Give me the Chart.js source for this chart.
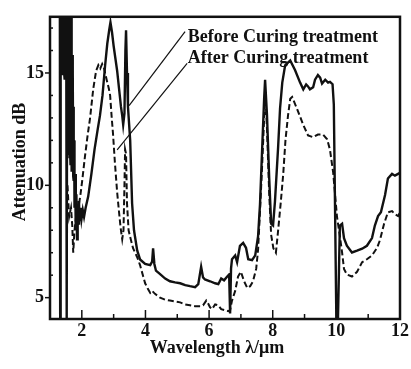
<!DOCTYPE html>
<html>
<head>
<meta charset="utf-8">
<script src="https://cdn.jsdelivr.net/npm/chart.js@4.4.0/dist/chart.umd.min.js"></script>
<style>
  html, body { margin: 0; padding: 0; background: #ffffff; }
  #c { display: block; }
</style>
</head>
<body>
<canvas id="c" width="411" height="369"></canvas>
<script>
// Attenuation spectrum of the fibre, before and after the curing treatment
const beforeX = [
  1.31, 1.32, 1.33, 1.34, 1.35, 1.36, 1.37, 1.38, 1.39, 1.40, 1.41, 1.42, 1.43, 1.44, 1.45, 1.46,
  1.47, 1.48, 1.49, 1.50, 1.51, 1.52, 1.53, 1.54, 1.55, 1.56, 1.57, 1.58, 1.59, 1.60, 1.61, 1.62,
  1.63, 1.64, 1.65, 1.66, 1.67, 1.68, 1.69, 1.70, 1.71, 1.72, 1.73, 1.74, 1.75, 1.76, 1.77, 1.79,
  1.81, 1.83, 1.85, 1.87, 1.89, 1.91, 1.93, 1.96, 1.99, 2.03, 2.07, 2.12, 2.20, 2.30, 2.40, 2.50,
  2.57, 2.65, 2.73, 2.80, 2.86, 2.90, 2.95, 3.00, 3.05, 3.11, 3.17, 3.23, 3.27, 3.30, 3.34, 3.37,
  3.39, 3.42, 3.45, 3.52, 3.58, 3.64, 3.74, 3.83, 3.99, 4.15, 4.21, 4.24, 4.28, 4.33, 4.46, 4.62,
  4.77, 4.93, 5.09, 5.25, 5.40, 5.56, 5.66, 5.75, 5.81, 5.87, 6.03, 6.19, 6.29, 6.38, 6.47, 6.57,
  6.63, 6.66, 6.69, 6.72, 6.82, 6.88, 6.97, 7.07, 7.16, 7.23, 7.35, 7.45, 7.54, 7.60, 7.67, 7.73,
  7.76, 7.82, 7.89, 7.95, 8.01, 8.07, 8.17, 8.23, 8.30, 8.39, 8.55, 8.70, 8.86, 8.96, 9.05, 9.11,
  9.17, 9.27, 9.33, 9.42, 9.49, 9.55, 9.65, 9.74, 9.80, 9.88, 9.92, 10.00, 10.05, 10.11, 10.18, 10.24,
  10.33, 10.49, 10.65, 10.81, 10.96, 11.12, 11.21, 11.31, 11.40, 11.53, 11.62, 11.75, 11.84, 11.94, 12.00
];
const beforeY = [
  17.6, 4.0, 17.6, 15.5, 17.6, 15.0, 17.6, 15.4, 17.6, 14.9, 17.6, 15.3, 17.6, 15.1, 17.6, 14.7,
  17.6, 15.2, 17.6, 14.9, 17.6, 15.0, 4.0, 17.6, 12.0, 17.6, 11.4, 17.6, 11.8, 17.6, 11.2, 17.6,
  11.6, 17.6, 10.9, 17.6, 11.3, 16.8, 10.6, 15.8, 10.8, 15.0, 10.4, 13.5, 10.2, 12.0, 9.0, 10.5,
  8.0, 9.6, 7.6, 9.0, 8.3, 9.3, 8.4, 9.0, 8.5, 8.9, 8.6, 9.0, 9.5, 10.5, 11.6, 12.5,
  13.1, 14.0, 15.3, 16.3, 16.9, 17.25, 16.8, 16.2, 15.7, 15.1, 14.3, 13.5, 13.1, 12.7, 13.2, 16.0,
  16.9, 15.0, 13.5, 12.0, 9.2, 8.0, 7.1, 6.7, 6.5, 6.45, 6.6, 7.2, 6.5, 6.2, 6.05, 5.85,
  5.73, 5.68, 5.64, 5.56, 5.51, 5.47, 5.6, 6.37, 5.9, 5.81, 5.73, 5.64, 5.6, 5.85, 5.77, 5.94,
  6.03, 4.3, 6.3, 6.71, 6.88, 6.58, 7.31, 7.44, 7.22, 6.71, 6.67, 6.88, 7.74, 9.15, 11.71, 13.85,
  14.70, 13.12, 10.30, 8.29, 8.21, 9.27, 11.71, 13.42, 14.57, 15.34, 15.56, 15.13, 14.57, 14.27, 14.49, 14.40,
  14.27, 14.36, 14.70, 14.91, 14.79, 14.53, 14.70, 14.57, 14.6, 14.5, 13.6, 4.0, 4.0, 8.21, 8.29, 7.65,
  7.31, 7.01, 7.09, 7.18, 7.31, 7.65, 8.21, 8.63, 8.80, 9.57, 10.30, 10.51, 10.43, 10.51, 10.56
];
const afterX = [
  1.55, 1.60, 1.66, 1.70, 1.73, 1.77, 1.82, 1.88, 1.95, 2.02, 2.10, 2.18, 2.26, 2.36, 2.45, 2.52,
  2.58, 2.64, 2.70, 2.78, 2.85, 2.89, 2.94, 2.98, 3.04, 3.11, 3.17, 3.22, 3.27, 3.31, 3.34, 3.36,
  3.39, 3.42, 3.47, 3.52, 3.61, 3.74, 3.83, 3.93, 3.99, 4.08, 4.15, 4.21, 4.30, 4.46, 4.62, 4.77,
  4.93, 5.09, 5.25, 5.40, 5.56, 5.72, 5.81, 5.91, 5.97, 6.03, 6.09, 6.19, 6.29, 6.38, 6.50, 6.60,
  6.66, 6.72, 6.82, 6.91, 7.00, 7.10, 7.20, 7.29, 7.38, 7.48, 7.54, 7.60, 7.67, 7.73, 7.77, 7.82,
  7.89, 7.95, 8.02, 8.10, 8.17, 8.25, 8.33, 8.40, 8.48, 8.55, 8.61, 8.76, 8.96, 9.11, 9.27, 9.42,
  9.58, 9.71, 9.80, 9.90, 10.02, 10.11, 10.18, 10.24, 10.33, 10.49, 10.65, 10.81, 10.96, 11.12, 11.28, 11.37,
  11.50, 11.62, 11.75, 11.84, 11.94, 12.00
];
const afterY = [
  10.0, 8.6, 9.0, 8.2, 7.0, 8.0, 8.6, 8.9, 9.5, 10.3, 11.3, 12.2, 13.0, 14.3, 15.1, 15.35,
  15.2, 15.4, 15.2, 14.7, 14.3, 14.0, 13.0, 12.3, 11.0, 9.7, 8.8, 8.1, 7.6, 8.0, 10.0, 11.6,
  11.4, 9.2, 8.0, 7.7, 7.2, 6.8, 6.45, 5.94, 5.64, 5.38, 5.21, 5.3, 5.17, 5.0, 4.91, 4.87,
  4.83, 4.79, 4.70, 4.66, 4.62, 4.62, 4.66, 4.87, 4.74, 4.57, 4.49, 4.70, 4.66, 4.49, 4.44, 4.40,
  4.44, 4.87, 5.30, 5.94, 6.15, 5.73, 5.43, 5.51, 5.73, 6.28, 7.14, 8.85, 10.98, 12.99, 14.0, 12.5,
  9.6, 7.8, 7.2, 7.0, 8.0, 9.2, 10.5, 12.0, 13.1, 13.85, 13.93, 13.42, 12.69, 12.22, 12.14, 12.26,
  12.26, 12.05, 11.58, 10.56, 8.6, 7.74, 7.01, 6.28, 6.03, 5.94, 6.15, 6.58, 6.71, 6.88, 7.22, 7.56,
  8.29, 8.80, 8.85, 8.72, 8.63, 8.80
];

const seriesNames = ['Before Curing treatment', 'After Curing treatment'];
const xTicks = [1, 2, 3, 4, 5, 6, 7, 8, 9, 10, 11, 12];
const xTickLabels = [2, 4, 6, 8, 10, 12];
const yTicks = [5, 6, 7, 8, 9, 10, 11, 12, 13, 14, 15, 16, 17];
const yTickLabels = [5, 10, 15];
// leader lines from each caption to its curve: [x0, y0, x1, y1]
const leaderLines = [[5.245, 16.84, 3.486, 13.55], [5.31, 15.43, 3.11, 11.58]];
const captionAt = [[5.33, 16.4], [5.33, 15.45]];
const xTitle = 'Wavelength λ/μm';
const yTitle = 'Attenuation dB';

const zip = (xs, ys) => xs.map((v, i) => ({ x: v, y: ys[i] }));
const serif = '"Liberation Serif", "Times New Roman", serif';
const ink = '#111111';

const overlay = {
  id: 'overlay',
  afterDatasetsDraw(chart) {
    const { ctx, chartArea: a, scales: { x, y } } = chart;
    ctx.save();
    ctx.strokeStyle = ink;
    ctx.fillStyle = ink;

    // leader lines
    ctx.lineWidth = 1.2;
    leaderLines.forEach(([x0, y0, x1, y1]) => {
      ctx.beginPath();
      ctx.moveTo(x.getPixelForValue(x0), y.getPixelForValue(y0));
      ctx.lineTo(x.getPixelForValue(x1), y.getPixelForValue(y1));
      ctx.stroke();
    });

    // curve captions
    ctx.font = 'bold 18px ' + serif;
    ctx.textAlign = 'left';
    ctx.textBaseline = 'alphabetic';
    seriesNames.forEach((name, i) => {
      ctx.fillText(name, x.getPixelForValue(captionAt[i][0]), y.getPixelForValue(captionAt[i][1]));
    });

    // tick marks
    ctx.lineWidth = 1.5;
    xTicks.forEach(v => {
      const px = x.getPixelForValue(v);
      const len = xTickLabels.includes(v) ? 9 : 5;
      ctx.beginPath();
      ctx.moveTo(px, a.bottom);
      ctx.lineTo(px, a.bottom - len);
      ctx.stroke();
    });
    yTicks.forEach(v => {
      const py = y.getPixelForValue(v);
      ctx.beginPath();
      if (yTickLabels.includes(v)) {
        ctx.moveTo(a.left - 5, py);
        ctx.lineTo(a.left, py);
      } else {
        ctx.moveTo(a.left, py);
        ctx.lineTo(a.left + 3, py);
      }
      ctx.stroke();
    });

    // frame
    ctx.lineWidth = 2.5;
    ctx.strokeRect(a.left, a.top, a.right - a.left, a.bottom - a.top);

    // axis titles
    ctx.font = 'bold 18px ' + serif;
    ctx.textAlign = 'center';
    ctx.textBaseline = 'alphabetic';
    ctx.fillText(xTitle, (a.left + a.right) / 2 - 8, 353);
    ctx.translate(25, (a.top + a.bottom) / 2 - 6);
    ctx.rotate(-Math.PI / 2);
    ctx.fillText(yTitle, 0, 0);
    ctx.restore();
  }
};

new Chart(document.getElementById('c'), {
  type: 'line',
  data: {
    datasets: [
      {
        label: seriesNames[0],
        data: zip(beforeX, beforeY),
        borderColor: ink,
        borderWidth: 2.4,
        pointRadius: 0,
        tension: 0,
        fill: false
      },
      {
        label: seriesNames[1],
        data: zip(afterX, afterY),
        borderColor: ink,
        borderWidth: 2,
        borderDash: [6, 3],
        pointRadius: 0,
        tension: 0,
        fill: false
      }
    ]
  },
  options: {
    responsive: false,
    animation: false,
    devicePixelRatio: 1,
    layout: { padding: { top: 4, right: 11, left: 0, bottom: 0 } },
    plugins: { legend: { display: false }, tooltip: { enabled: false } },
    scales: {
      x: {
        type: 'linear',
        min: 1,
        max: 12,
        grid: { display: false, drawTicks: false },
        border: { display: false },
        afterBuildTicks: s => { s.ticks = xTicks.map(v => ({ value: v })); },
        afterFit: s => { s.height = 50; },
        ticks: {
          padding: 2,
          color: ink,
          font: { family: serif, size: 18, weight: 'bold' },
          maxRotation: 0,
          autoSkip: false,
          callback: v => (xTickLabels.includes(v) ? String(v) : '')
        }
      },
      y: {
        type: 'linear',
        min: 4.05,
        max: 17.5,
        grid: { display: false, drawTicks: false },
        border: { display: false },
        afterBuildTicks: s => { s.ticks = yTicks.map(v => ({ value: v })); },
        afterFit: s => { s.width = 50; },
        ticks: {
          padding: 6,
          color: ink,
          font: { family: serif, size: 18, weight: 'bold' },
          autoSkip: false,
          callback: v => (yTickLabels.includes(v) ? String(v) : '')
        }
      }
    }
  },
  plugins: [overlay]
});
</script>
</body>
</html>
